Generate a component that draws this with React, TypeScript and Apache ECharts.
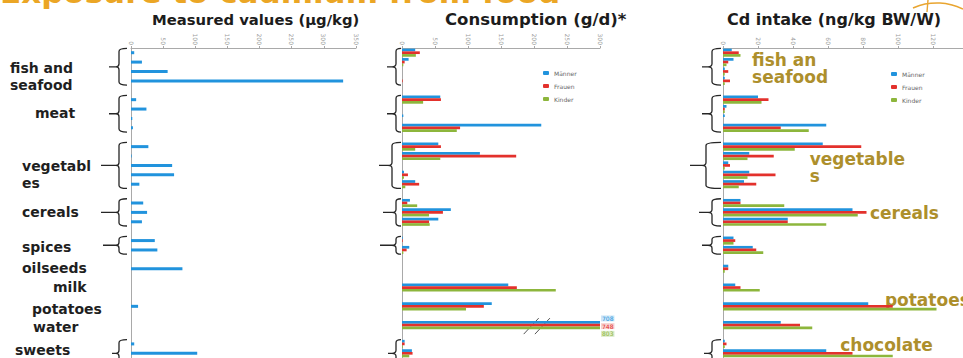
import React, { useEffect, useRef } from "react";
import * as echarts from "echarts";

// ---------- data ----------
const rowNames = [
  "fish and seafood 1", "fish and seafood 2", "fish and seafood 3", "fish and seafood 4", "gap 1",
  "meat 1", "meat 2", "meat 3", "meat 4", "gap 2",
  "vegetables 1", "vegetables 2", "vegetables 3", "vegetables 4", "vegetables 5", "gap 3",
  "cereals 1", "cereals 2", "cereals 3", "gap 4",
  "spices 1", "spices 2", "gap 5",
  "oilseeds", "gap 6",
  "milk", "gap 7",
  "potatoes", "gap 8",
  "water", "gap 9",
  "sweets 1", "sweets 2",
];

const measuredTitle = "Measured values (µg/kg)";
const consumptionTitle = "Consumption (g/d)*";
const intakeTitle = "Cd intake (ng/kg BW/W)";
const seriesNames = ["Männer", "Frauen", "Kinder"];

const measured = [5, 17, 57, 330, null, 8, 24, 2, 3, null, 27, 1, 64, 67, 13, null, 19, 25, 17, null, 37, 41, null, 80, null, null, null, 11, null, null, null, 5, 103];

const consMen = [20, 10, 0, 0, null, 58, 0, 2, 211, null, 55, 118, 0, 3, 20, null, 12, 74, 55, null, 1, 11, null, 0, null, 161, null, 136, null, 708, null, 4, 15];
const consWomen = [27, 4, 0, 1, null, 59, 0, 0, 88, null, 59, 173, 0, 9, 26, null, 8, 62, 41, null, 1, 7, null, 0, null, 174, null, 124, null, 748, null, 4, 16];
const consKids = [21, 2, 0, 0, null, 32, 0, 0, 83, null, 20, 58, 0, 3, 5, null, 23, 41, 42, null, 0, 2, null, 0, null, 233, null, 97, null, 803, null, 1, 11];

const intakeMen = [5, 6, 1, 1, null, 20, 2, 1, 59, null, 57, 15, 3, 15, 12, null, 10, 74, 37, null, 6, 17, null, 3, null, 7, null, 83, null, 33, null, 1, 59];
const intakeWomen = [9, 3, 3, 4, null, 26, 1, 0, 33, null, 79, 29, 4, 30, 19, null, 10, 82, 37, null, 7, 19, null, 3, null, 10, null, 97, null, 44, null, 2, 74];
const intakeKids = [10, 2, 1, 1, null, 22, 1, 0, 49, null, 41, 14, 1, 14, 9, null, 35, 77, 59, null, 6, 23, null, 1, null, 21, null, 122, null, 51, null, 1, 97];

const measuredMax = 350;
const measuredInterval = 50;
const consMax = 300;
const consInterval = 50;
const intakeMax = 140;
const intakeInterval = 20;

// group labels at left (text, anchor row of first line)
const groupLabels = [
  { text: "fish and\nseafood", row: 1.6 },
  { text: "meat", row: 6.4 },
  { text: "vegetabl\nes", row: 12.1 },
  { text: "cereals", row: 17.0 },
  { text: "spices", row: 20.7 },
  { text: "oilseeds", row: 22.9 },
  { text: "milk", row: 24.9 },
  { text: "potatoes", row: 27.3 },
  { text: "water", row: 29.2 },
  { text: "sweets", row: 31.6 },
];
// multi-row groups with braces: [first row, last row]
const braceGroups = [[0, 3], [5, 8], [10, 14], [16, 18], [20, 21], [31, 33]];

// annotations on intake panel (text, value, row)
const annotations = [
  { text: "fish an\nseafood", value: 16.6, row: 0.85 },
  { text: "vegetable\ns", value: 49.5, row: 11.4 },
  { text: "cereals", value: 84, row: 17.1 },
  { text: "potatoes", value: 92.5, row: 26.4 },
  { text: "chocolate", value: 67, row: 31.2 },
];

// ---------- style ----------
const BLUE = "#2193dd";
const RED = "#e3312c";
const GREEN = "#8db63c";
const OLIVE = "#ad8f2c";
const COLORS = [BLUE, RED, GREEN];
const LABEL_BG = ["#cfe7f7", "#f7d3d1", "#dcebc9"];
const FONT = "DejaVu Sans";

const Brace = echarts.graphic.extendShape({
  shape: { xh: 0, xv: 0, xt: 0, y1: 0, y2: 0, dash: 0 },
  buildPath(ctx: any, s: any) {
    const ym = (s.y1 + s.y2) / 2;
    const r = Math.min(3, (s.y2 - s.y1) / 4);
    ctx.moveTo(s.xh, s.y1);
    ctx.quadraticCurveTo(s.xv, s.y1, s.xv, s.y1 + r);
    ctx.lineTo(s.xv, ym - r);
    ctx.quadraticCurveTo(s.xv, ym, s.xt, ym);
    ctx.quadraticCurveTo(s.xv, ym, s.xv, ym + r);
    ctx.lineTo(s.xv, s.y2 - r);
    ctx.quadraticCurveTo(s.xv, s.y2, s.xh, s.y2);
    if (s.dash > 0) {
      ctx.moveTo(s.xt, ym);
      ctx.lineTo(s.xt - s.dash, ym);
    }
  },
});
echarts.graphic.registerShape("brace", Brace);

// brace geometry per panel: offsets from axis zero, dash per group
const braceLayout = [
  { hook: -4, vert: -12, tip: -15, wideExtra: 0, dash: [7, 7, 15, 15, 13, 4] },
  { hook: -1, vert: -6, tip: -10, wideExtra: 4, dash: [5, 5, 9, 9, 12, 4] },
  { hook: -2, vert: -11, tip: -15, wideExtra: 6, dash: [6, 6, 12, 9, 6, 4] },
];

function xAxisFor(gridIndex: number, max: number, interval: number, showMax: boolean) {
  return {
    type: "value",
    gridIndex,
    position: "top",
    min: 0,
    max,
    interval,
    axisLine: { show: true, lineStyle: { color: "#a9a9a9", width: 1 } },
    axisTick: { show: true, length: 2, lineStyle: { color: "#a9a9a9" } },
    axisLabel: { rotate: 90, fontSize: 6, color: "#9a9a9a", margin: 3, fontFamily: FONT, showMaxLabel: showMax },
    splitLine: { show: false },
  };
}

function yAxisFor(gridIndex: number) {
  return {
    type: "category",
    gridIndex,
    data: rowNames,
    inverse: true,
    axisLine: { show: true, lineStyle: { color: "#a9a9a9", width: 1 } },
    axisTick: { show: false },
    axisLabel: { show: false },
    splitLine: { show: false },
  };
}

function consData(arr: (number | null)[], k: number) {
  return arr.map((v) => {
    if (v == null) return null;
    if (v > consMax) {
      return {
        value: consMax,
        label: {
          show: true,
          position: "right",
          formatter: String(v),
          fontSize: 6,
          fontFamily: FONT,
          color: COLORS[k],
          backgroundColor: LABEL_BG[k],
          padding: [0, 1],
          distance: 1,
          offset: [0, [-4, 1, 6][k]],
        },
      };
    }
    return v;
  });
}

export default function App() {
  const ref = useRef<HTMLDivElement>(null);

  useEffect(() => {
    if (!ref.current) return;
    const chart = echarts.init(ref.current, null, { renderer: "svg" });

    const legendCommon = {
      data: seriesNames,
      orient: "vertical",
      itemWidth: 6,
      itemHeight: 4,
      itemGap: 5,
      icon: "roundRect",
      textStyle: { fontSize: 6, color: "#666", fontFamily: FONT, lineHeight: 8 },
    };

    const titleStyle = { fontFamily: FONT, fontWeight: "bold", color: "#1c1c1c" };

    const option: any = {
      animation: false,
      backgroundColor: "#ffffff",
      title: [
        { text: measuredTitle, left: 147, top: 7, textStyle: { ...titleStyle, fontSize: 14.8 } },
        { text: consumptionTitle, left: 440, top: 6, textStyle: { ...titleStyle, fontSize: 16.5 } },
        { text: intakeTitle, left: 722, top: 6, textStyle: { ...titleStyle, fontSize: 16 } },
      ],
      legend: [
        { ...legendCommon, left: 538, top: 64 },
        { ...legendCommon, left: 886, top: 65 },
      ],
      grid: [
        { left: 131, top: 48, width: 225, height: 310, outerBoundsMode: "none" },
        { left: 402, top: 48, width: 198, height: 310, outerBoundsMode: "none" },
        { left: 723, top: 48, width: 245, height: 310, outerBoundsMode: "none" },
      ],
      xAxis: [
        xAxisFor(0, measuredMax, measuredInterval, true),
        xAxisFor(1, consMax, consInterval, true),
        xAxisFor(2, intakeMax, intakeInterval, false),
      ],
      yAxis: [yAxisFor(0), yAxisFor(1), yAxisFor(2)],
      series: [
        {
          type: "bar",
          name: "Messwerte",
          xAxisIndex: 0,
          yAxisIndex: 0,
          data: measured,
          barWidth: 3,
          itemStyle: { color: BLUE },
        },
        ...[consMen, consWomen, consKids].map((arr, k) => ({
          type: "bar",
          name: seriesNames[k],
          xAxisIndex: 1,
          yAxisIndex: 1,
          data: consData(arr, k),
          barWidth: 2.7,
          barGap: "0%",
          itemStyle: { color: COLORS[k] },
        })),
        ...[intakeMen, intakeWomen, intakeKids].map((arr, k) => ({
          type: "bar",
          name: seriesNames[k],
          xAxisIndex: 2,
          yAxisIndex: 2,
          data: arr,
          barWidth: 2.7,
          barGap: "0%",
          itemStyle: { color: COLORS[k] },
        })),
      ],
    };

    chart.setOption(option);

    const px = (g: number, x: number, row: number) =>
      chart.convertToPixel({ gridIndex: g } as any, [x, row]) as unknown as number[];
    const y0 = px(0, 0, 0)[1];
    const band = px(0, 0, 1)[1] - y0;
    const rowY = (r: number) => y0 + r * band;
    const zeros = [0, 1, 2].map((g) => px(g, 0, 0)[0]);

    const graphics: any[] = [];

    // big slide title (cut off at top)
    graphics.push({
      type: "text",
      x: 0,
      y: -8,
      silent: true,
      style: {
        text: "Exposure to cadmium from food",
        fontSize: 31,
        fontWeight: "bold",
        fontFamily: FONT,
        fill: "#eba625",
        verticalAlign: "middle",
      },
    });
    // orange scribble top-right
    graphics.push({
      type: "polyline",
      silent: true,
      shape: { points: [[913, 8], [925, 4], [940, 3], [952, 5], [963, 9]], smooth: 0.4 },
      style: { stroke: "#e9a530", lineWidth: 1.6, fill: "none" },
    });
    graphics.push({
      type: "line",
      silent: true,
      shape: { x1: 928, y1: 0, x2: 927, y2: 12 },
      style: { stroke: "#e9a530", lineWidth: 1.4 },
    });

    // group labels
    const labelX = [10, 35, 22, 22, 22, 22, 53, 32, 33, 15];
    groupLabels.forEach((gl, i) => {
      graphics.push({
        type: "text",
        x: labelX[i],
        y: rowY(gl.row) - 8.5,
        silent: true,
        style: {
          text: gl.text,
          fontSize: 14,
          fontWeight: "bold",
          fontFamily: FONT,
          fill: "#1f1f1f",
          lineHeight: 17,
          verticalAlign: "top",
        },
      });
    });

    // braces
    braceLayout.forEach((bl, p) => {
      braceGroups.forEach(([a, b], gi) => {
        const extra = gi === 2 ? bl.wideExtra : 0;
        const z = zeros[p];
        graphics.push({
          type: "brace",
          silent: true,
          shape: {
            xh: z + bl.hook,
            xv: z + bl.vert - extra,
            xt: z + bl.tip - extra,
            y1: rowY(a - 0.45),
            y2: rowY(b + 0.45),
            dash: bl.dash[gi],
          },
          style: { stroke: "#262626", lineWidth: 1.3, fill: "none" },
        });
      });
    });

    // axis break on water consumption
    const waterRow = rowNames.indexOf("water");
    [195, 212].forEach((v) => {
      const p1 = px(1, v, waterRow);
      graphics.push({
        type: "line",
        silent: true,
        shape: { x1: p1[0] - 7, y1: p1[1] + 9, x2: p1[0] + 8, y2: p1[1] - 7 },
        style: { stroke: "#555", lineWidth: 1 },
      });
    });

    // annotations
    annotations.forEach((an) => {
      const p = px(2, an.value, 0);
      graphics.push({
        type: "text",
        x: p[0],
        y: rowY(an.row) - 9,
        silent: true,
        style: {
          text: an.text,
          fontSize: 17,
          fontWeight: "bold",
          fontFamily: FONT,
          fill: OLIVE,
          lineHeight: 17,
          verticalAlign: "top",
        },
      });
    });

    chart.setOption({ graphic: graphics });

    return () => chart.dispose();
  }, []);

  return (
    <div
      ref={ref}
      style={{ position: "fixed", left: 0, top: 0, width: 963, height: 358, background: "#fff" }}
    />
  );
}
